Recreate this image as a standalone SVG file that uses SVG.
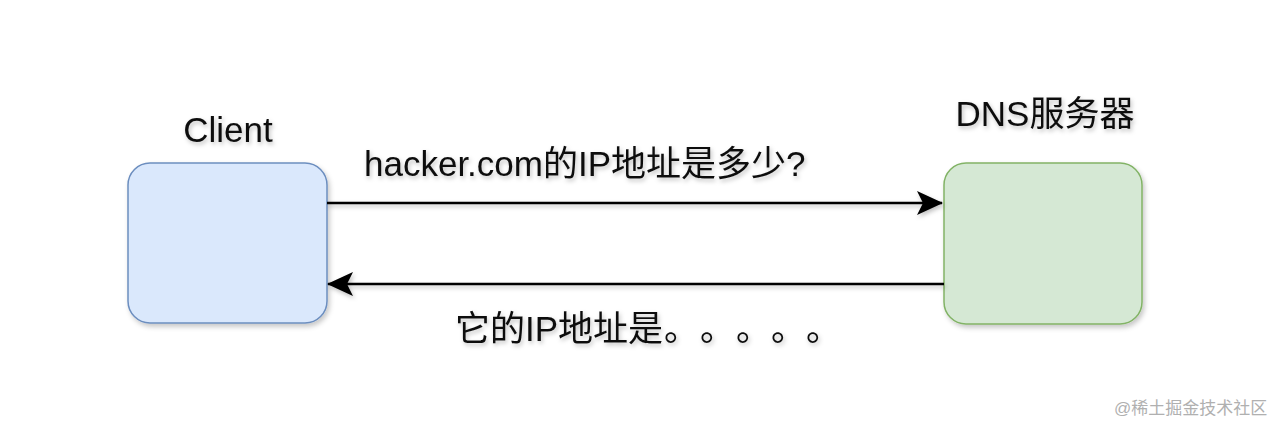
<svg xmlns="http://www.w3.org/2000/svg" width="1280" height="424" viewBox="0 0 1280 424">
  <style>
    .lbl { font-family: "Liberation Sans", "Noto Sans CJK SC", sans-serif; font-size: 35px; fill: #111; }
    .cjk { font-family: "Noto Sans CJK SC", sans-serif; }
    .box { stroke-width: 1.5; filter: url(#sh); }
    .edge { stroke: #000; stroke-width: 2.5; fill: none; }
    .wm { font-family: "Liberation Sans", "Noto Sans CJK SC", sans-serif; font-size: 17px; fill: #b0b0b0; }
  </style>
  <defs>
    <filter id="sh" x="-10%" y="-10%" width="125%" height="130%">
      <feDropShadow dx="2" dy="3" stdDeviation="2.5" flood-color="#000" flood-opacity="0.22"/>
    </filter>
    <filter id="tsh" filterUnits="userSpaceOnUse" x="0" y="0" width="1280" height="424">
      <feDropShadow dx="1.5" dy="2.5" stdDeviation="2" flood-color="#000" flood-opacity="0.25"/>
    </filter>
    <marker id="arr" viewBox="0 0 26 24" refX="25" refY="12" markerWidth="26" markerHeight="24" markerUnits="userSpaceOnUse" orient="auto">
      <path d="M0,0 L26,12 L0,24 L6,12 Z" fill="#000"/>
    </marker>
  </defs>
  <rect width="1280" height="424" fill="#ffffff"/>

  <g id="client">
    <rect class="box" x="128" y="163" width="199" height="160" rx="22" fill="#dae8fc" stroke="#6c8ebf"/>
    <text class="lbl" x="228" y="142" text-anchor="middle" filter="url(#tsh)">Client</text>
  </g>

  <g id="dns">
    <rect class="box" x="944" y="163" width="198" height="161" rx="22" fill="#d5e8d4" stroke="#82b366"/>
    <text class="lbl" x="1045" y="126" text-anchor="middle" filter="url(#tsh)">DNS服务器</text>
  </g>

  <g id="connectors" filter="url(#tsh)">
    <path class="edge" d="M327,203 L942,203" marker-end="url(#arr)"/>
    <text class="lbl" x="364" y="176">hacker.com的IP地址是多少?</text>
    <path class="edge" d="M944,284 L328,284" marker-end="url(#arr)"/>
    <text class="lbl" x="455" y="341">它的IP地址是<tspan class="cjk" x="664">。</tspan><tspan class="cjk" x="700">。</tspan><tspan class="cjk" x="736">。</tspan><tspan class="cjk" x="771">。</tspan><tspan class="cjk" x="806">。</tspan></text>
  </g>

  <text class="wm" x="1114" y="414">@稀土掘金技术社区</text>
</svg>
